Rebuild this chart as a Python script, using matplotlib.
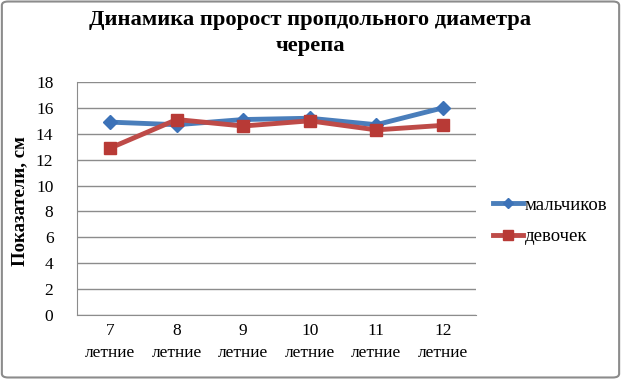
import matplotlib
matplotlib.use("Agg")
import matplotlib.pyplot as plt
from matplotlib.patches import FancyBboxPatch

categories = ["7\nлетние", "8\nлетние", "9\nлетние", "10\nлетние", "11\nлетние", "12\nлетние"]
boys = [14.9, 14.7, 15.1, 15.2, 14.7, 16.0]
girls = [12.9, 15.1, 14.6, 15.0, 14.3, 14.65]
series_names = ["мальчиков", "девочек"]
title = "Динамика пророст пропдольного диаметра\nчерепа"
ylabel = "Показатели, см"

plt.rcParams['font.family'] = ['Liberation Serif', 'DejaVu Serif']

fig = plt.figure(figsize=(6.21, 3.79), dpi=100)
border = FancyBboxPatch((0.003, 0.004), 0.994, 0.992, boxstyle="round,pad=0,rounding_size=0.01",
                        transform=fig.transFigure, fill=False, edgecolor="#8c8c8c", linewidth=1.5)
fig.patches.append(border)

ax = fig.add_axes([77/621, 1 - 315/379, (476 - 77)/621, (315 - 82)/379])
x = list(range(len(categories)))
ax.plot(x, boys, color="#4a7ebb", linewidth=3.5, marker="D", markersize=7,
        markerfacecolor="#3c72b8", markeredgecolor="#3c72b8", label=series_names[0], zorder=3)
ax.plot(x, girls, color="#be4b48", linewidth=3.5, marker="s", markersize=9,
        markerfacecolor="#b83a36", markeredgecolor="#b83a36", label=series_names[1], zorder=4)

ax.set_xlim(-0.5, len(categories) - 0.5)
ax.set_ylim(0, 18)
ax.set_yticks(range(0, 19, 2))
ax.set_xticks(x)
ax.set_xticklabels(categories, fontsize=12.5, linespacing=1.45)
ax.tick_params(axis='y', labelsize=12.5, length=0, pad=17)
ax.tick_params(axis='x', length=0, pad=6)
ax.yaxis.grid(True, color="#8c8c8c", linewidth=1)
ax.set_axisbelow(True)
for s in ["top", "right"]:
    ax.spines[s].set_visible(False)
ax.spines["left"].set_color("#8c8c8c")
ax.spines["bottom"].set_color("#8c8c8c")

ax.set_ylabel(ylabel, fontsize=13.5, fontweight="bold")
ax.yaxis.set_label_coords((28 - 77) / 399, (315 - 201) / 233)

fig.text(0.5, 1 - 33/379, title, ha="center", va="center", fontsize=16.2,
         fontweight="bold", linespacing=1.4)

leg = fig.legend(loc="center left", bbox_to_anchor=(476/621, 1 - 221/379), frameon=False,
                 fontsize=13.5, handlelength=1.6, handletextpad=0.1, labelspacing=0.75,
                 markerscale=0.75)

fig.savefig("out.png", dpi=100)
